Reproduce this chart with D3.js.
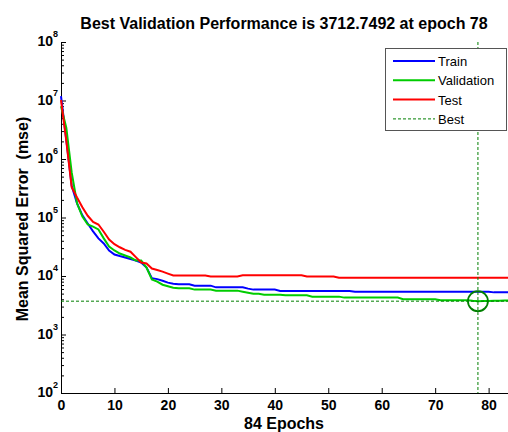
<!DOCTYPE html>
<html>
<head>
<meta charset="utf-8">
<script src="https://cdn.jsdelivr.net/npm/d3@7"></script>
<style>
  body { margin: 0; background: #fff; }
  svg { display: block; font-family: "Liberation Sans", Arial, sans-serif; }
</style>
</head>
<body>
<svg id="chart" width="508" height="432"></svg>
<script>
// Data (epoch, mse)
var trainEpochs = [0, 1, 2, 3, 4, 5, 6, 7, 8, 9, 10, 11, 12, 13, 14, 15, 16, 17, 18, 19, 20, 21, 22, 24, 25, 28, 29, 34, 35, 36, 40, 41, 54, 55, 80, 81, 84];
var trainMse = [1.19e7, 2.1e6, 3.5e5, 1.75e5, 1.09e5, 7.9e4, 5.8e4, 4.4e4, 3.6e4, 2.73e4, 2.33e4, 2.19e4, 2.07e4, 1.95e4, 1.84e4, 1.7e4, 1.39e4, 9.2e3, 8.85e3, 8.3e3, 7.7e3, 7.4e3, 7.2e3, 7.2e3, 6.84e3, 6.84e3, 6.4e3, 6.4e3, 6.08e3, 5.85e3, 5.85e3, 5.55e3, 5.55e3, 5.4e3, 5.4e3, 5.25e3, 5.25e3];

var valEpochs = [0, 1, 2, 3, 4, 5, 6, 7, 8, 9, 10, 11, 12, 13, 14, 15, 16, 17, 18, 19, 20, 21, 22, 24, 25, 28, 29, 33, 34, 35, 36, 37, 38, 41, 42, 46, 47, 52, 53, 63, 64, 70, 71, 76, 77, 78, 79, 80, 81, 82, 83, 84];
var valMse = [8.0e6, 3.4e6, 5.9e5, 1.75e5, 1.04e5, 7.6e4, 7.0e4, 6.25e4, 4.4e4, 3.2e4, 2.73e4, 2.42e4, 2.24e4, 2.07e4, 1.84e4, 1.84e4, 1.39e4, 8.7e3, 8.0e3, 7.1e3, 6.7e3, 6.3e3, 6.15e3, 6.15e3, 5.85e3, 5.85e3, 5.62e3, 5.62e3, 5.4e3, 5.19e3, 4.99e3, 4.95e3, 4.8e3, 4.8e3, 4.67e3, 4.67e3, 4.44e3, 4.44e3, 4.27e3, 4.27e3, 4.02e3, 4.02e3, 3.86e3, 3.86e3, 3.76e3, 3712.7492, 3.72e3, 3.74e3, 3.76e3, 3.78e3, 3.8e3, 3.82e3];

var testEpochs = [0, 1, 2, 3, 4, 5, 6, 7, 8, 9, 10, 11, 12, 13, 14, 15, 16, 17, 18, 19, 20, 21, 27, 28, 33, 34, 45, 46, 51, 52, 84];
var testMse = [1.02e7, 2.0e6, 3.3e5, 2.2e5, 1.5e5, 1.07e5, 8.4e4, 7.6e4, 5.7e4, 4.2e4, 3.5e4, 3.1e4, 2.8e4, 2.6e4, 2.1e4, 1.7e4, 1.64e4, 1.34e4, 1.27e4, 1.19e4, 1.1e4, 1.02e4, 1.02e4, 9.8e3, 9.8e3, 1.03e4, 1.03e4, 9.8e3, 9.8e3, 9.3e3, 9.3e3];

var bestEpoch = 78;
var bestPerf = 3712.7492;
var totalEpochs = 84;

var xTicks = [0, 10, 20, 30, 40, 50, 60, 70, 80];
var yExponents = [2, 3, 4, 5, 6, 7, 8];
var legendNames = ["Train", "Validation", "Test", "Best"];

var svg = d3.select("#chart");

var x = d3.scaleLinear().domain([0, totalEpochs]).range([61, 510]);
var y = d3.scaleLog().domain([1e2, 1e8]).range([393, 42]);

var green = "#00cc00";
var bestGreen = "#007f00";

// title
svg.append("text")
  .attr("x", 284)
  .attr("y", 29)
  .attr("text-anchor", "middle")
  .style("font-weight", "bold")
  .style("font-size", "16px")
  .text("Best Validation Performance is " + bestPerf.toFixed(4) + " at epoch " + bestEpoch);

// minor ticks on y axis (2..9 per decade)
var minorVals = [];
yExponents.slice(0, -1).forEach(function (p) {
  for (var k = 2; k <= 9; k++) minorVals.push(k * Math.pow(10, p));
});

var yMinor = svg.append("g")
  .attr("transform", "translate(" + x(0) + ",0)")
  .call(d3.axisLeft(y).tickValues(minorVals).tickSizeInner(-3).tickSizeOuter(0).tickFormat(""));
yMinor.select(".domain").remove();

var yAxis = svg.append("g")
  .attr("transform", "translate(" + x(0) + ",0)")
  .call(d3.axisLeft(y)
    .tickValues(yExponents.map(function (p) { return Math.pow(10, p); }))
    .tickSizeInner(-5).tickSizeOuter(0).tickFormat(""));

svg.selectAll("g.tick line, path.domain").attr("stroke", "#000");

// y tick labels 10^n
yExponents.forEach(function (p) {
  svg.append("text")
    .attr("x", 53)
    .attr("y", y(Math.pow(10, p)) + 4)
    .attr("text-anchor", "end")
    .style("font-weight", "bold")
    .style("font-size", "14px")
    .text("10");
  svg.append("text")
    .attr("x", 53)
    .attr("y", y(Math.pow(10, p)) - 5)
    .style("font-weight", "bold")
    .style("font-size", "9px")
    .text(p);
});

// x axis
var xAxis = svg.append("g")
  .attr("transform", "translate(0," + y(1e2) + ")")
  .call(d3.axisBottom(x).tickValues(xTicks).tickSizeInner(-5).tickSizeOuter(0));
xAxis.selectAll(".tick text")
  .attr("y", 17)
  .attr("dy", null)
  .style("font-weight", "bold")
  .style("font-size", "14px")
  .attr("fill", "#000");
xAxis.selectAll("line, path").attr("stroke", "#000");

// axis labels
svg.append("text")
  .attr("transform", "translate(28," + 219 + ") rotate(-90)")
  .attr("text-anchor", "middle")
  .style("font-weight", "bold")
  .style("font-size", "16px")
  .style("white-space", "pre")
  .text("Mean Squared Error  (mse)");

svg.append("text")
  .attr("x", 284)
  .attr("y", 429)
  .attr("text-anchor", "middle")
  .style("font-weight", "bold")
  .style("font-size", "16px")
  .text(totalEpochs + " Epochs");

// series
var line = d3.line()
  .x(function (d) { return x(d[0]); })
  .y(function (d) { return y(d[1]); });

function pairs(ep, v) {
  return ep.map(function (e, i) { return [e, v[i]]; });
}

var series = [
  { data: pairs(trainEpochs, trainMse), color: "#0000ff" },
  { data: pairs(valEpochs, valMse), color: green },
  { data: pairs(testEpochs, testMse), color: "#ff0000" }
];

series.forEach(function (s) {
  svg.append("path")
    .datum(s.data)
    .attr("fill", "none")
    .attr("stroke", s.color)
    .attr("stroke-width", 2)
    .attr("d", line);
});

// best markers
svg.append("line")
  .attr("x1", x(0)).attr("x2", x(totalEpochs))
  .attr("y1", y(bestPerf)).attr("y2", y(bestPerf))
  .attr("stroke", bestGreen)
  .attr("stroke-dasharray", "3,2");

svg.append("line")
  .attr("x1", x(bestEpoch)).attr("x2", x(bestEpoch))
  .attr("y1", y(1e8)).attr("y2", y(1e2))
  .attr("stroke", bestGreen)
  .attr("stroke-dasharray", "3,2");

svg.append("circle")
  .attr("cx", x(bestEpoch))
  .attr("cy", y(bestPerf))
  .attr("r", 10)
  .attr("fill", "none")
  .attr("stroke", bestGreen)
  .attr("stroke-width", 1.8);

// legend
var legend = svg.append("g").attr("transform", "translate(385,48)");
legend.append("rect")
  .attr("x", 0.5).attr("y", 0.5)
  .attr("width", 121).attr("height", 82)
  .attr("fill", "#fff")
  .attr("stroke", "#555");

var legendColors = ["#0000ff", green, "#ff0000", bestGreen];
legendNames.forEach(function (name, i) {
  var ly = 13 + i * 19.3;
  legend.append("line")
    .attr("x1", 8).attr("x2", 50)
    .attr("y1", ly).attr("y2", ly)
    .attr("stroke", legendColors[i])
    .attr("stroke-width", i < 3 ? 2 : 1)
    .attr("stroke-dasharray", i < 3 ? null : "3,2");
  legend.append("text")
    .attr("x", 53)
    .attr("y", ly + 5)
    .style("font-size", "13px")
    .text(name);
});
</script>
</body>
</html>
